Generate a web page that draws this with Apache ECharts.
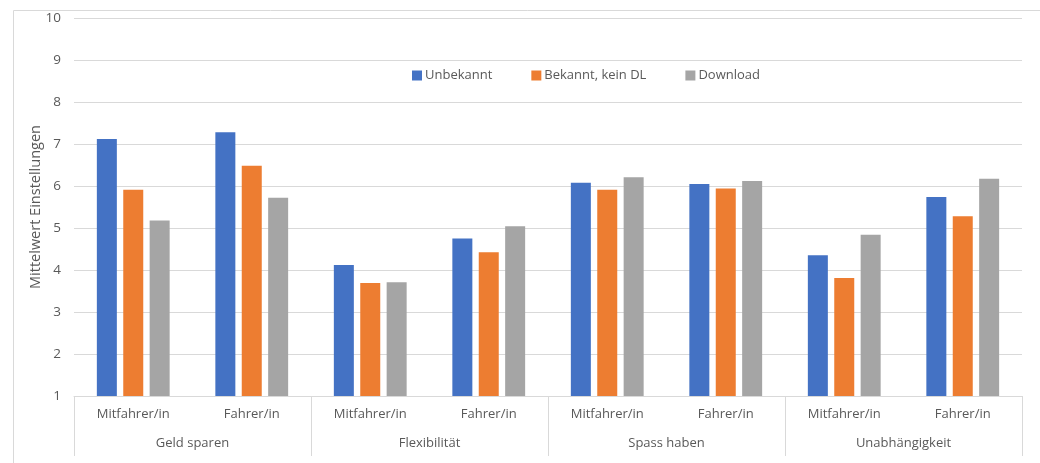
<!DOCTYPE html>
<html>
<head>
<meta charset="utf-8">
<script src="https://cdn.jsdelivr.net/npm/echarts@6/dist/echarts.min.js"></script>
<style>
  html, body { margin: 0; padding: 0; background: #fff; }
  #chart { width: 1040px; height: 463px; }
</style>
</head>
<body>
<div id="chart"></div>
<script>
// Sub-categories (one per bar cluster) and their parent groups
const subCategories = ['Mitfahrer/in', 'Fahrer/in', 'Mitfahrer/in', 'Fahrer/in',
                       'Mitfahrer/in', 'Fahrer/in', 'Mitfahrer/in', 'Fahrer/in'];
const groups = ['Geld sparen', 'Flexibilität', 'Spass haben', 'Unabhängigkeit'];

// Mean attitude values per awareness group
const unbekannt      = [7.12, 7.28, 4.12, 4.75, 6.08, 6.05, 4.35, 5.74];
const bekanntKeinDL  = [5.91, 6.48, 3.69, 4.42, 5.91, 5.94, 3.81, 5.28];
const download       = [5.18, 5.72, 3.71, 5.04, 6.21, 6.12, 4.84, 6.17];

const yTicks = { min: 1, max: 10, step: 1 };

const FONT = '"Open Sans", "Noto Sans", sans-serif';
const TEXT = '#595959';
const LINE = '#d9d9d9';

const chart = echarts.init(document.getElementById('chart'), null, { renderer: 'canvas' });

function barSeries(name, data, color) {
  return {
    name, type: 'bar', data, xAxisIndex: 0,
    barWidth: 20, barGap: '32%',
    itemStyle: { color },
    emphasis: { disabled: true }
  };
}

chart.setOption({
  animation: false,
  textStyle: { fontFamily: FONT, color: TEXT },
  grid: { left: 74, right: 18, top: 18, bottom: 67 },
  graphic: [{
    type: 'rect',
    shape: { x: 13.5, y: 10.5, width: 1100, height: 600 },
    style: { fill: 'none', stroke: LINE, lineWidth: 1 },
    silent: true
  }],
  legend: {
    left: 407, top: 64,
    itemWidth: 10, itemHeight: 10, itemGap: 39,
    icon: 'rect',
    textStyle: { fontFamily: FONT, fontSize: 13, color: TEXT, padding: [0, 0, 0, -2] },
    data: ['Unbekannt', 'Bekannt, kein DL', 'Download']
  },
  xAxis: [{
    type: 'category',
    data: subCategories,
    position: 'bottom',
    axisLine: { show: true, lineStyle: { color: LINE, width: 1 } },
    axisTick: { show: false },
    axisLabel: { interval: 0, margin: 12, fontFamily: FONT, fontSize: 13, color: TEXT }
  }, {
    type: 'category',
    data: groups,
    position: 'bottom',
    axisLine: { show: false },
    axisTick: { show: true, length: 60, lineStyle: { color: LINE, width: 1 } },
    axisLabel: { interval: 0, margin: 41, fontFamily: FONT, fontSize: 13, color: TEXT }
  }],
  yAxis: {
    type: 'value',
    min: yTicks.min, max: yTicks.max, interval: yTicks.step,
    name: 'Mittelwert Einstellungen',
    nameLocation: 'middle', nameGap: 31, nameRotate: 90,
    nameMoveOverlap: false,
    nameTextStyle: { fontFamily: FONT, fontSize: 14.5, color: TEXT },
    axisLine: { show: false },
    axisTick: { show: false },
    axisLabel: { margin: 13, fontFamily: FONT, fontSize: 13.5, color: TEXT },
    splitLine: { show: true, lineStyle: { color: LINE, width: 1 } }
  },
  series: [
    barSeries('Unbekannt', unbekannt, '#4472C4'),
    barSeries('Bekannt, kein DL', bekanntKeinDL, '#ED7D31'),
    barSeries('Download', download, '#A5A5A5')
  ]
});
</script>
</body>
</html>
